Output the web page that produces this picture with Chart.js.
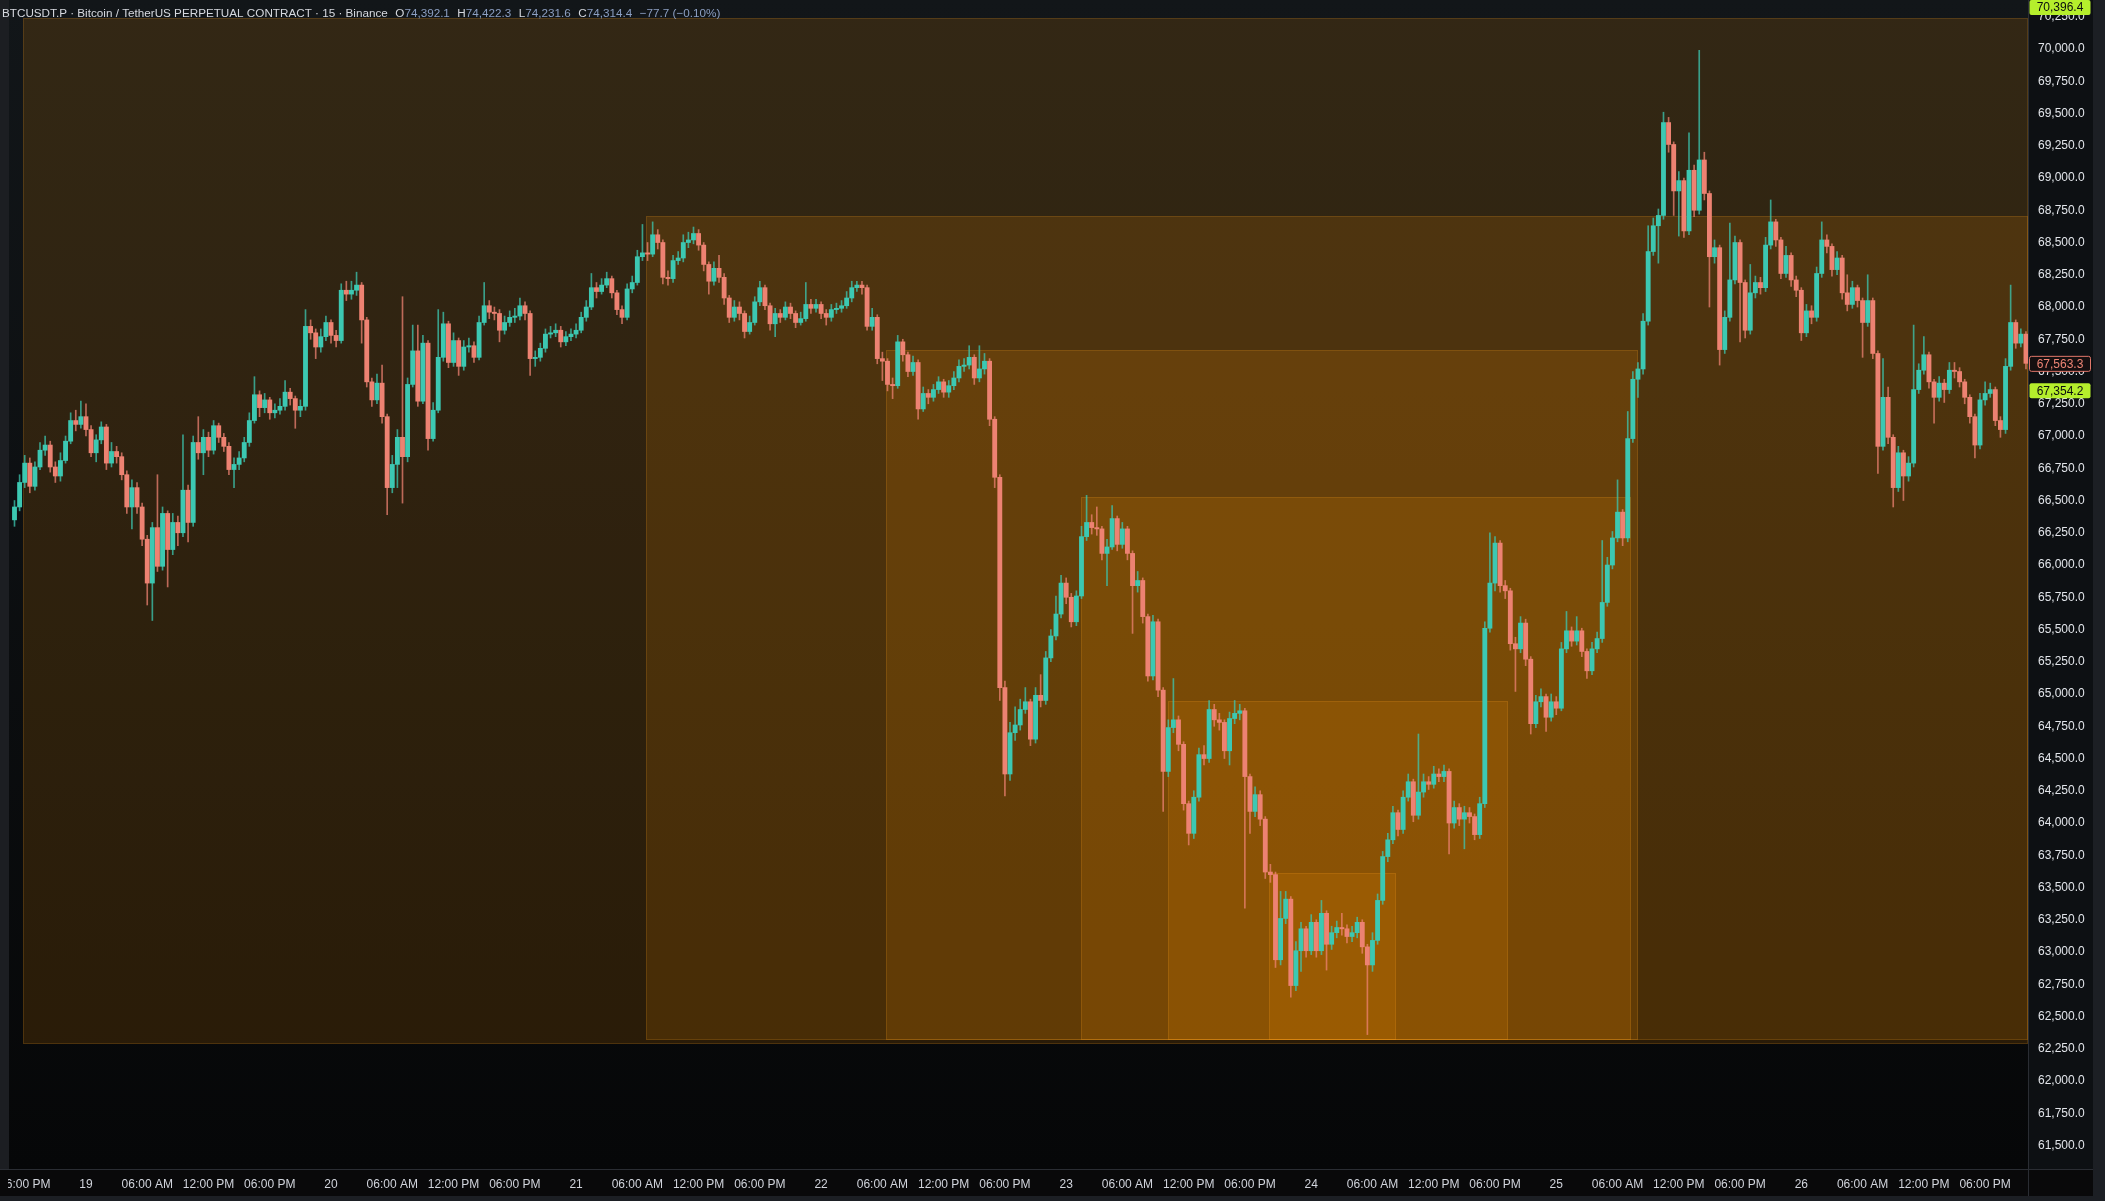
<!DOCTYPE html>
<html>
<head>
<meta charset="utf-8">
<title>BTCUSDT.P 15</title>
<script src="https://cdn.jsdelivr.net/npm/chart.js@4.4.1/dist/chart.umd.min.js"></script>
<style>
  html, body { margin: 0; padding: 0; background: #08090b; overflow: hidden; }
  #wrap { width: 2105px; height: 1201px; position: relative; }
</style>
</head>
<body>
<div id="wrap"><canvas id="btcChart" width="2105" height="1201"></canvas></div>
<script>
// 30 minute candles, first one opens 18 Mar 17:00 (hours counted from 19 Mar 00:00)
const firstCandleHour = -7;
const candleHours = 0.5;
const firstOpen = 66350;

const closes = [
  66450,66640,66790,66610,66760,66890,66930,66760,66690,66810,
  66960,67120,67090,67150,67050,66870,66970,67070,66790,66880,
  66840,66700,66450,66600,66450,66200,65860,66290,65990,66400,
  66120,66330,66250,66580,66330,66950,66870,66990,66890,67080,
  66990,66920,66740,66780,66830,66950,67120,67320,67220,67280,
  67180,67200,67230,67340,67290,67200,67230,67850,67800,67690,
  67770,67880,67780,67740,68130,68100,68130,68170,67900,67420,
  67280,67410,67150,66600,66780,66990,66840,67400,67660,67270,
  67720,66980,67200,67610,67870,67570,67740,67540,67690,67700,
  67610,67880,68010,67960,67950,67820,67880,67920,67930,68010,
  67950,67600,67610,67680,67790,67800,67820,67730,67770,67790,
  67820,67920,68000,68150,68120,68170,68220,68110,67980,67920,
  68140,68190,68390,68420,68410,68560,68500,68230,68220,68360,
  68380,68500,68520,68570,68480,68330,68200,68300,68230,68070,
  67920,68000,67950,67810,67880,68040,68150,68010,67870,67950,
  67920,68000,67950,67880,67910,68020,67990,68020,67950,67920,
  67980,67990,68010,68070,68150,68170,68150,67850,67920,67600,
  67580,67400,67390,67730,67630,67500,67570,67210,67330,67300,
  67360,67420,67340,67390,67450,67540,67550,67610,67450,67520,
  67580,67130,66680,65050,64380,64700,64760,64880,64940,64650,
  64990,64950,65280,65450,65620,65860,65750,65560,65760,66220,
  66330,66290,66280,66090,66140,66360,66160,66280,66090,65840,
  65880,65600,65140,65560,65030,64400,64740,64800,64610,64150,
  63920,64200,64530,64500,64880,64800,64780,64560,64810,64850,
  64870,64360,64090,64220,64030,63620,63600,62940,63260,63410,
  62740,63010,63180,63010,63230,63010,63300,63060,63150,63190,
  63180,63120,63150,63230,63040,62900,63090,63400,63740,63870,
  64080,63950,64200,64320,64060,64240,64320,64300,64380,64360,
  64400,64000,64120,64030,64080,64050,63910,64150,65510,65860,
  66170,65840,65800,65390,65350,65550,65270,64770,64940,64980,
  64820,64940,64890,65350,65490,65410,65490,65330,65180,65350,
  65430,65710,66000,66210,66410,66210,66980,67440,67520,67890,
  68430,68630,68710,69430,69260,68900,68980,68590,69060,68750,
  69140,68880,68390,68460,67670,67920,68210,68500,68190,67820,
  68110,68190,68150,68480,68660,68520,68260,68400,68210,68130,
  67800,67970,67920,68260,68520,68470,68290,68380,68110,68020,
  68150,68050,67880,68050,67640,66920,67300,66990,66600,66870,
  66690,66790,67360,67510,67630,67420,67300,67410,67360,67510,
  67500,67420,67300,67150,66930,67280,67330,67360,67120,67050,
  67540,67880,67720,67790,67563.3
];

const highs = [
  66500,66700,66850,66830,66800,66950,67000,66960,66800,66870,
  67000,67180,67200,67270,67250,67080,67010,67110,67090,66950,
  66920,66870,66730,66660,66640,66480,66230,66330,66700,66450,
  66420,66400,66380,67010,66620,67000,67150,67050,67030,67120,
  67100,67020,66950,66830,66880,66990,67180,67460,67350,67330,
  67300,67250,67290,67430,67370,67310,67280,67980,67900,67830,
  67830,67930,67900,67820,68180,68200,68200,68270,68190,67920,
  67450,67480,67550,67170,66850,67050,68080,67450,67860,67860,
  67780,67740,67260,67980,67960,67890,67800,67760,67740,67760,
  67730,67930,68190,68050,68000,67980,67930,67970,67990,68070,
  68040,67970,67660,67720,67830,67850,67870,67850,67810,67830,
  67870,67960,68050,68260,68190,68220,68270,68240,68130,68010,
  68180,68240,68440,68640,68500,68660,68600,68520,68280,68400,
  68430,68560,68580,68620,68600,68500,68350,68350,68400,68260,
  68090,68050,68040,67970,67930,68080,68200,68170,68030,67990,
  67980,68040,68030,67970,67960,68190,68060,68060,68040,67980,
  68020,68030,68050,68120,68200,68200,68200,68170,67990,67940,
  67650,67600,67450,67780,67750,67650,67620,67590,67380,67360,
  67400,67460,67440,67430,67500,67590,67600,67700,67630,67700,
  67640,67600,67150,66700,65100,64780,64900,64960,65050,64960,
  65050,65150,65330,65500,65760,65920,65900,65780,65800,66300,
  66540,66390,66450,66300,66200,66460,66380,66330,66300,66110,
  65950,65900,65620,65610,65580,65050,64800,65120,64830,64630,
  64170,64250,64580,64600,64950,64920,64850,64800,64860,64950,
  64920,64890,64380,64280,64250,64050,63680,63620,63470,63470,
  63430,63080,63230,63200,63290,63250,63400,63320,63200,63240,
  63300,63210,63200,63270,63250,63060,63150,63450,63780,63920,
  64130,64100,64250,64380,64340,64690,64380,64360,64440,64420,
  64450,64420,64170,64150,64130,64120,64070,64200,65560,66250,
  66220,66190,65880,65820,65440,65600,65580,65290,64990,65040,
  65000,65000,64980,65400,65640,65520,65600,65510,65350,65400,
  65480,66190,66060,66260,66660,66430,67190,67500,67570,67950,
  68630,68690,68760,69510,69470,69280,69050,69000,69350,69100,
  69990,69200,68900,68520,68480,67970,68650,68550,68520,68210,
  68330,68240,68230,68540,68830,68680,68540,68470,68420,68240,
  68150,68020,68010,68310,68660,68560,68490,68430,68400,68250,
  68200,68170,68070,68250,68070,67660,67600,67380,67010,66920,
  66890,66840,67860,67560,67770,67650,67440,67460,67440,67570,
  67570,67530,67440,67320,67170,67330,67420,67410,67380,67150,
  67600,68170,67900,67830,67810
];

const lows = [
  66300,66420,66600,66560,66580,66740,66850,66720,66640,66650,
  66790,66940,67040,67060,67000,66840,66800,66940,66740,66760,
  66790,66660,66400,66280,66400,66150,65690,65570,65950,65960,
  65830,66080,66150,66220,66180,66300,66820,66700,66840,66860,
  66950,66880,66700,66600,66740,66800,66920,67100,67150,67180,
  67130,67140,67170,67200,67240,67060,67150,67200,67750,67600,
  67650,67740,67720,67690,67720,68050,68060,68090,67720,67380,
  67230,67250,67100,66390,66560,66600,66480,66800,67380,67230,
  67250,66890,66960,67180,67580,67530,67540,67470,67510,67650,
  67570,67590,67860,67910,67900,67730,67790,67850,67880,67900,
  67900,67470,67540,67580,67650,67760,67770,67690,67700,67740,
  67760,67800,67890,67980,68070,68100,68150,68070,67940,67870,
  67900,68110,68170,68360,68360,68390,68450,68180,68170,68190,
  68330,68350,68460,68490,68440,68280,68100,68170,68190,68020,
  67880,67890,67900,67760,67790,67860,68010,67980,67820,67770,
  67880,67900,67910,67840,67860,67890,67950,67960,67910,67860,
  67890,67950,67960,67990,68040,68120,68100,67820,67820,67560,
  67430,67350,67290,67370,67580,67460,67470,67130,67190,67250,
  67270,67330,67300,67300,67360,67420,67500,67520,67400,67420,
  67480,67080,66600,64950,64210,64330,64640,64720,64850,64600,
  64620,64900,64920,65250,65420,65590,65700,65520,65530,65740,
  66190,66240,66230,66040,65840,66120,66110,66130,66040,65470,
  65790,65550,65100,65110,64980,64090,64360,64700,64560,64100,
  63830,63880,64170,64450,64470,64750,64720,64500,64450,64770,
  64800,63340,63920,64050,63980,63570,63540,62880,62900,63220,
  62650,62700,62850,62960,62980,62960,62980,62860,63020,63110,
  63130,63070,63080,63110,62990,62360,62850,63060,63370,63700,
  63840,63900,63920,64170,64010,64030,64200,64260,64270,64320,
  64320,63760,63960,63980,63800,64000,63870,63880,64120,65480,
  65800,65790,65740,65340,65020,65320,65220,64690,64740,64900,
  64710,64790,64840,64870,65320,65370,65380,65290,65120,65150,
  65320,65400,65680,65970,66180,66150,66180,66950,67300,67480,
  67860,68400,68340,68680,69200,68710,68550,68540,68560,68700,
  68720,68830,68000,68340,67550,67640,67890,68180,67730,67760,
  67790,68070,68100,68120,68450,68470,68220,68230,68160,68080,
  67740,67770,67870,67890,68230,68420,68240,68250,68060,67970,
  67990,68000,67610,67850,67600,66710,66890,66940,66450,66570,
  66500,66650,66760,67330,67480,67370,67100,67270,67260,67330,
  67450,67380,67250,67100,66830,66900,67240,67300,67080,66990,
  67020,67510,67680,67690,67520
];

// axis labels
const dayLabels = ['19', '20', '21', '22', '23', '24', '25', '26'];
const hourLabels = ['06:00 AM', '12:00 PM', '06:00 PM'];
const priceTicks = [
  61500, 61750, 62000, 62250, 62500, 62750, 63000, 63250, 63500, 63750,
  64000, 64250, 64500, 64750, 65000, 65250, 65500, 65750, 66000, 66250,
  66500, 66750, 67000, 67250, 67500, 67750, 68000, 68250, 68500, 68750,
  69000, 69250, 69500, 69750, 70000, 70250
];

// nested range boxes (hours from 19 Mar 00:00, prices)
const boxStart = [-6.2, 54.8, 78.4, 97.5, 106.0, 115.9];
const boxEnd = [190.2, 190.2, 152.0, 151.3, 139.3, 128.3];
const boxTop = [70244, 68705, 67667, 66527, 64946, 63612];
const boxBottom = [62285, 62320, 62320, 62320, 62320, 62320];

// price tags on the right scale
const tagValues = [70396.4, 67563.3, 67354.2];

// legend line
const headerTitle = 'BTCUSDT.P \u00b7 Bitcoin / TetherUS PERPETUAL CONTRACT \u00b7 15 \u00b7 Binance';
const headerKeys = ['O', 'H', 'L', 'C'];
const headerValues = ['74,392.1', '74,422.3', '74,231.6', '74,314.4'];
const headerChange = '\u221277.7 (\u22120.10%)';

const upColor = '#3cc8b2';
const downColor = '#ed8272';
const upWick = 'rgba(60, 200, 178, 0.75)';
const downWick = 'rgba(237, 130, 114, 0.75)';

const opens = closes.map((c, i) => i === 0 ? firstOpen : closes[i - 1]);
const candleTime = closes.map((c, i) => firstCandleHour + i * candleHours);
const isUp = i => closes[i] >= opens[i];

const bodies = closes.map((c, i) => ({ x: candleTime[i], y: [opens[i], c] }));
const wicks = closes.map((c, i) => ({ x: candleTime[i], y: [lows[i], highs[i]] }));

const xTicks = [{ hour: -6, label: hourLabels[2] }];
dayLabels.forEach((day, d) => {
  xTicks.push({ hour: d * 24, label: day });
  hourLabels.forEach((h, k) => xTicks.push({ hour: d * 24 + 6 * (k + 1), label: h }));
});

const fmtPrice = v => v.toLocaleString('en-US', { minimumFractionDigits: 1, maximumFractionDigits: 1 });

Chart.defaults.font.family = '"Liberation Sans", Arial, sans-serif';
Chart.defaults.font.size = 12;

// Background, axis panels and separators
const backgroundPlugin = {
  id: 'background',
  beforeDraw(chart) {
    const { ctx, chartArea: a, width, height } = chart;
    ctx.save();
    ctx.fillStyle = '#0d1013';
    ctx.fillRect(0, 0, width, height);
    ctx.fillStyle = '#09090a';
    ctx.fillRect(0, a.bottom, width, height - a.bottom);
    const g = ctx.createLinearGradient(0, a.top, 0, a.bottom);
    g.addColorStop(0, '#121619');
    g.addColorStop(1, '#060708');
    ctx.fillStyle = g;
    ctx.fillRect(a.left, a.top, a.right - a.left, a.bottom - a.top);
    ctx.fillStyle = '#2a2d33';
    ctx.fillRect(a.right, 0, 1, height);
    ctx.fillRect(0, a.bottom, width, 1);
    ctx.fillStyle = '#1c1f24';
    ctx.fillRect(width - 12, 0, 12, height);
    ctx.fillRect(0, height - 5, width, 5);
    ctx.restore();
  }
};

// Nested orange range boxes, placed through the scales
const boxesPlugin = {
  id: 'boxes',
  beforeDatasetsDraw(chart) {
    const { ctx, chartArea: a, scales: { x, y } } = chart;
    ctx.save();
    ctx.beginPath();
    ctx.rect(a.left, a.top, a.right - a.left, a.bottom - a.top);
    ctx.clip();
    boxStart.forEach((start, i) => {
      const x0 = Math.round(x.getPixelForValue(start));
      const x1 = Math.round(x.getPixelForValue(boxEnd[i]));
      const y0 = Math.round(y.getPixelForValue(boxTop[i]));
      const y1 = Math.round(y.getPixelForValue(boxBottom[i]));
      ctx.fillStyle = 'rgba(255, 150, 0, 0.14)';
      ctx.fillRect(x0, y0, x1 - x0, y1 - y0);
      ctx.strokeStyle = 'rgba(255, 165, 40, 0.17)';
      ctx.lineWidth = 1;
      ctx.strokeRect(x0 + 0.5, y0 + 0.5, x1 - x0 - 1, y1 - y0 - 1);
    });
    ctx.restore();
  }
};

// Legend text, left edge strip and price tags
const overlayPlugin = {
  id: 'overlay',
  afterDraw(chart) {
    const { ctx, chartArea: a, scales: { y }, height } = chart;
    ctx.save();

    // narrow panel edge on the left, it hides the start of the first time label
    ctx.fillStyle = '#1c1e22';
    ctx.fillRect(0, a.top, 9, a.bottom - a.top);
    ctx.fillStyle = '#09090a';
    ctx.fillRect(0, a.bottom + 1, 8, height - a.bottom - 6);

    // header line, sized to the reference width
    const gap = 7.5;
    let size = 14;
    const measure = () => {
      ctx.font = size + 'px "Liberation Sans", Arial, sans-serif';
      let w = ctx.measureText(headerTitle).width + gap;
      headerKeys.forEach((k, i) => { w += ctx.measureText(k + headerValues[i]).width + gap; });
      return w + ctx.measureText(headerChange).width;
    };
    while (measure() > 724 && size > 9) size -= 0.1;
    ctx.textBaseline = 'middle';
    ctx.textAlign = 'left';
    let hx = 2;
    const hy = 14;
    ctx.fillStyle = '#d6d9df';
    ctx.fillText(headerTitle, hx, hy);
    hx += ctx.measureText(headerTitle).width + gap;
    headerKeys.forEach((k, i) => {
      ctx.fillStyle = '#d6d9df';
      ctx.fillText(k, hx, hy);
      hx += ctx.measureText(k).width;
      ctx.fillStyle = '#8c9fc2';
      ctx.fillText(headerValues[i], hx, hy);
      hx += ctx.measureText(headerValues[i]).width + gap;
    });
    ctx.fillText(headerChange, hx, hy);

    // tags on the price scale
    const fills = ['#b5ee2c', '#150f10', '#b5ee2c'];
    const strokes = [null, '#e0776a', null];
    const texts = ['#0b0d0f', '#ee8575', '#0b0d0f'];
    ctx.font = '12px "Liberation Sans", Arial, sans-serif';
    ctx.textAlign = 'center';
    tagValues.forEach((v, i) => {
      const ty = Math.max(7, y.getPixelForValue(v));
      const x0 = a.right + 1, w = 61, h = 15;
      ctx.fillStyle = fills[i];
      ctx.beginPath();
      ctx.roundRect(x0 + 0.5, ty - h / 2 + 0.5, w, h, 2);
      ctx.fill();
      if (strokes[i]) {
        ctx.strokeStyle = strokes[i];
        ctx.lineWidth = 1;
        ctx.stroke();
      }
      ctx.fillStyle = texts[i];
      ctx.fillText(fmtPrice(v), x0 + w / 2 + 0.5, ty + 1);
    });
    ctx.restore();
  }
};

const ctx = document.getElementById('btcChart').getContext('2d');
new Chart(ctx, {
  type: 'bar',
  data: {
    datasets: [
      {
        label: 'wick',
        data: wicks,
        grouped: false,
        barThickness: 1,
        borderWidth: 0,
        order: 2,
        backgroundColor: c => isUp(c.dataIndex) ? upWick : downWick
      },
      {
        label: 'body',
        data: bodies,
        grouped: false,
        barThickness: 4.2,
        minBarLength: 1,
        borderWidth: 0,
        order: 1,
        backgroundColor: c => isUp(c.dataIndex) ? upColor : downColor
      }
    ]
  },
  options: {
    responsive: false,
    maintainAspectRatio: false,
    animation: false,
    layout: { padding: 0 },
    plugins: {
      legend: { display: false },
      tooltip: { enabled: false }
    },
    scales: {
      x: {
        type: 'linear',
        min: -8.42,
        max: 190.2,
        offset: false,
        grid: { display: false, drawTicks: false },
        border: { display: false },
        afterBuildTicks: s => { s.ticks = xTicks.map(t => ({ value: t.hour })); },
        afterFit: s => { s.height = 32; s.paddingLeft = 0; s.paddingRight = 0; },
        ticks: {
          autoSkip: false,
          maxRotation: 0,
          padding: 8,
          color: '#d1d4dc',
          callback: v => (xTicks.find(t => t.hour === v) || {}).label
        }
      },
      y: {
        type: 'linear',
        position: 'right',
        min: 61318,
        max: 70380,
        grid: { display: false, drawTicks: false },
        border: { display: false },
        afterBuildTicks: s => { s.ticks = priceTicks.map(v => ({ value: v })); },
        afterFit: s => { s.width = 77; s.paddingTop = 0; s.paddingBottom = 0; },
        ticks: {
          padding: 10,
          color: '#e2e5ea',
          callback: v => fmtPrice(v)
        }
      }
    }
  },
  plugins: [backgroundPlugin, boxesPlugin, overlayPlugin]
});
</script>
</body>
</html>
